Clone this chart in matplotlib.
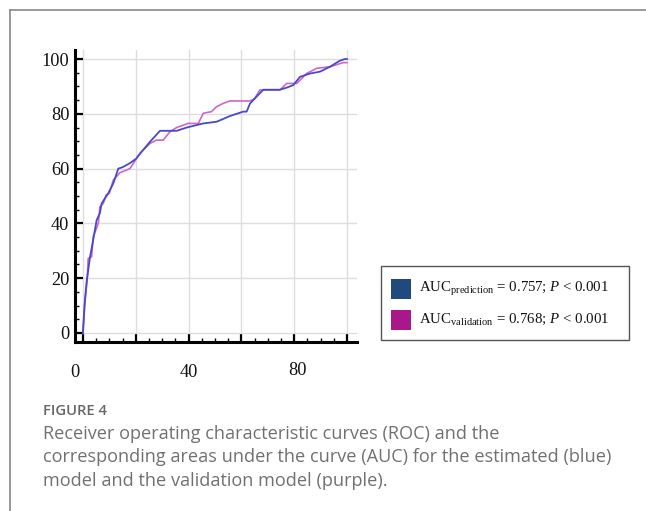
import numpy as np
import matplotlib
matplotlib.use("Agg")
import matplotlib.pyplot as plt
from matplotlib.patches import Rectangle
from matplotlib.lines import Line2D
from matplotlib.transforms import ScaledTranslation

plt.rcParams['mathtext.fontset'] = 'custom'
plt.rcParams['mathtext.rm'] = 'Liberation Serif'
plt.rcParams['mathtext.it'] = 'Liberation Serif:italic'

# ROC curves (1 - specificity, sensitivity), in %
fpr_pred = [0, 0.6, 1.4, 2.7, 3.9, 5.2, 6.4, 7.1, 9.6, 11.5, 13.4, 15, 17.8, 20,
            22.8, 25.4, 29.2, 35.5, 39.3, 45.6, 50.6, 55.7, 60.7, 62, 63.3, 65,
            67, 68.3, 74.6, 77, 79.7, 82.2, 86, 89.8, 93.6, 97.3, 99.2, 100]
tpr_pred = [0, 10, 18.6, 27.8, 34, 41.2, 43.7, 47.3, 51, 54.6, 60, 60.5, 62, 63.5,
            66.8, 69.8, 73.8, 73.8, 75, 76.5, 77.1, 79.2, 80.8, 80.8, 83.8, 85.5,
            87.5, 88.8, 88.8, 89.5, 90.5, 93.5, 94.7, 95.4, 97.2, 99.4, 100, 100]

fpr_val = [0, 0.8, 1.6, 2, 3.3, 3.9, 4.9, 5.8, 6.2, 6.4, 7.7, 8.8, 10, 11.5, 14,
           17.8, 21.6, 25.4, 27.9, 30.4, 33, 35.5, 39.9, 43.7, 45.6, 48.7, 50.6,
           53.1, 55.7, 63.3, 65, 67, 74.6, 77.2, 81, 84.7, 88.5, 93.6, 98.6, 100]
tpr_val = [0, 12, 19.3, 27.2, 27.8, 35.2, 37.6, 40, 43.3, 46, 47.3, 50.4, 51, 55.8,
           58.5, 60, 65.6, 69.2, 70.4, 70.4, 73.5, 75, 76.5, 76.5, 80.2, 80.8, 82.6,
           83.8, 84.7, 84.7, 85.5, 88.7, 88.7, 91.1, 91.1, 94.7, 96.6, 97.2, 98.7, 98.7]

legend_labels = [r'AUC$_{\rm prediction}$ = 0.757; $P$ < 0.001',
                 r'AUC$_{\rm validation}$ = 0.768; $P$ < 0.001']
legend_colors = ['#1f4a80', '#a8188a']

caption_title = 'FIGURE 4'
caption_lines = ['Receiver operating characteristic curves (ROC) and the',
                 'corresponding areas under the curve (AUC) for the estimated (blue)',
                 'model and the validation model (purple).']

W, H = 646, 511
fig = plt.figure(figsize=(W / 100, H / 100), dpi=100)


def fx(px):
    return px / W


def fy(py):
    return 1 - py / H


# card frame
fig.add_artist(Line2D([fx(10), fx(10)], [fy(10), 0], color='#888888', lw=1.2))
fig.add_artist(Line2D([fx(10), 1], [fy(10), fy(10)], color='#888888', lw=1.2))

ax = fig.add_axes([fx(75), fy(342), (357 - 75) / W, (342 - 50) / H])
ax.plot(fpr_pred, tpr_pred, color='#4848cc', lw=1.3, zorder=3)
ax.plot(fpr_val, tpr_val, color='#cc66cc', lw=1.2, zorder=2)

ax.set_xlim(-3.0, 103.8)
ax.set_ylim(-3.3, 103.3)
ax.set_xticks(np.arange(0, 101, 20))
ax.set_xticklabels(['0', '', '40', '', '80', ''])
ax.set_yticks(np.arange(0, 101, 20))
ax.set_xticks(np.arange(0, 101, 5), minor=True)
ax.set_yticks(np.arange(0, 101, 5), minor=True)
ax.grid(True, which='major', color='#dddddd', lw=1)
ax.set_axisbelow(True)

for s in ['top', 'right']:
    ax.spines[s].set_visible(False)
for s in ['left', 'bottom']:
    ax.spines[s].set_linewidth(2.2)
    ax.spines[s].set_color('black')

ax.tick_params(which='major', direction='in', length=6, width=1.6)
ax.tick_params(which='minor', direction='in', length=3, width=1.0)
ax.tick_params(axis='x', which='major', pad=16)
ax.tick_params(axis='y', which='major', pad=4)
for lab in ax.get_xticklabels() + ax.get_yticklabels():
    lab.set_fontfamily('Liberation Serif')
    lab.set_fontsize(13.2)
    lab.set_color('#111111')

xl = ax.get_xticklabels()
xl[0].set_transform(xl[0].get_transform() + ScaledTranslation(-8 / 100, 0, fig.dpi_scale_trans))
xl[4].set_transform(xl[4].get_transform() + ScaledTranslation(3 / 100, 2 / 100, fig.dpi_scale_trans))

# legend box
fig.add_artist(Rectangle((fx(381), fy(340)), (629 - 381) / W, (340 - 266) / H,
                         fill=False, edgecolor='#555555', lw=1.0))
for i, (lab, col) in enumerate(zip(legend_labels, legend_colors)):
    top = 279 + i * 31
    fig.add_artist(Rectangle((fx(391), fy(top + 20)), 20 / W, 20 / H,
                             facecolor=col, edgecolor='none'))
    fig.text(fx(419), fy(top + 13), lab, family='Liberation Serif', fontsize=10.7,
             color='#111111', va='baseline', ha='left')

# caption
fig.text(fx(43), fy(411), caption_title, family='Open Sans', fontsize=10.6,
         fontweight='semibold', color='#666666', va='center', ha='left')
for i, line in enumerate(caption_lines):
    fig.text(fx(43), fy(434 + i * 23.4), line, family='Open Sans', fontsize=13.1,
             color='#707070', va='center', ha='left')

fig.savefig('out.png', dpi=100)
